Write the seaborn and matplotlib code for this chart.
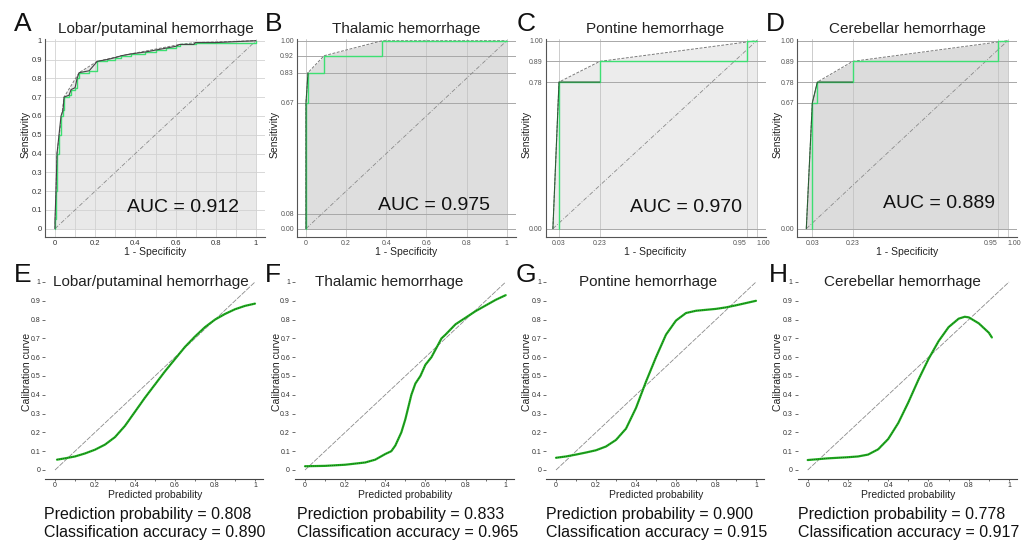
import matplotlib
matplotlib.use("Agg")
import matplotlib.pyplot as plt
import numpy as np
import seaborn as sns

sns.set_theme(style="white")
plt.rcParams['font.family'] = ['Liberation Sans', 'DejaVu Sans']

W, H = 1028, 542

# ---- data ----
panel_letters_top = ['A', 'B', 'C', 'D']
panel_letters_bottom = ['E', 'F', 'G', 'H']
titles = ['Lobar/putaminal hemorrhage', 'Thalamic hemorrhage',
          'Pontine hemorrhage', 'Cerebellar hemorrhage']
auc_values = [0.912, 0.975, 0.970, 0.889]
pred_prob = [0.808, 0.833, 0.900, 0.778]
class_acc = [0.890, 0.965, 0.915, 0.917]

# ROC step curves (green), empirical lines (black) and convex hulls (dashed)
lobar_fpr = [0, 0, 0.005, 0.01, 0.02, 0.03, 0.04, 0.045, 0.07, 0.08, 0.1, 0.11, 0.12, 0.17,
             0.21, 0.26, 0.3, 0.33, 0.38, 0.45, 0.5, 0.55, 0.6, 0.62, 0.69, 0.7, 0.8, 1.0]
lobar_tpr = [0, 0.05, 0.2, 0.4, 0.5, 0.6, 0.63, 0.7, 0.71, 0.74, 0.75, 0.8, 0.83, 0.84,
             0.89, 0.9, 0.91, 0.92, 0.93, 0.94, 0.95, 0.96, 0.97, 0.98, 0.98, 0.99, 0.99, 1.0]
lobar_hull_fpr = [0, 0.005, 0.01, 0.045, 0.12, 0.21, 0.33, 0.62, 0.7, 1.0]
lobar_hull_tpr = [0, 0.2, 0.4, 0.7, 0.83, 0.89, 0.92, 0.98, 0.99, 1.0]

thal_fpr = [0, 0, 0.01, 0.09, 0.38, 1.0]
thal_tpr = [0, 0.67, 0.83, 0.92, 1.0, 1.0]
thal_black_fpr = [0, 0, 0.01]
thal_black_tpr = [0, 0.67, 0.83]
thal_hull_fpr = [0, 0, 0.01, 0.09, 0.38, 1.0]
thal_hull_tpr = [0, 0.67, 0.83, 0.92, 1.0, 1.0]

pont_fpr = [0.03, 0.03, 0.23, 0.95, 1.0]
pont_tpr = [0, 0.78, 0.89, 1.0, 1.0]
pont_black_fpr = [0, 0.03, 0.23]
pont_black_tpr = [0, 0.78, 0.78]
pont_hull_fpr = [0, 0.03, 0.23, 1.0]
pont_hull_tpr = [0, 0.78, 0.89, 1.0]

cere_fpr = [0.03, 0.03, 0.055, 0.23, 0.95, 1.0]
cere_tpr = [0, 0.67, 0.78, 0.89, 1.0, 1.0]
cere_black_fpr = [0, 0.03, 0.055, 0.23]
cere_black_tpr = [0, 0.67, 0.78, 0.78]
cere_hull_fpr = [0, 0.03, 0.055, 0.23, 1.0]
cere_hull_tpr = [0, 0.67, 0.78, 0.89, 1.0]

roc_step = [(lobar_fpr, lobar_tpr), (thal_fpr, thal_tpr), (pont_fpr, pont_tpr), (cere_fpr, cere_tpr)]
roc_black = [(lobar_fpr, lobar_tpr), (thal_black_fpr, thal_black_tpr),
             (pont_black_fpr, pont_black_tpr), (cere_black_fpr, cere_black_tpr)]
roc_hull = [(lobar_hull_fpr, lobar_hull_tpr), (thal_hull_fpr, thal_hull_tpr),
            (pont_hull_fpr, pont_hull_tpr), (cere_hull_fpr, cere_hull_tpr)]

dec_ticks = [0, 0.1, 0.2, 0.3, 0.4, 0.5, 0.6, 0.7, 0.8, 0.9, 1.0]
dec_labels = ['0', '0.1', '0.2', '0.3', '0.4', '0.5', '0.6', '0.7', '0.8', '0.9', '1']
fifth_ticks = [0, 0.2, 0.4, 0.6, 0.8, 1.0]
fifth_labels = ['0', '0.2', '0.4', '0.6', '0.8', '1']

roc_xticks = [fifth_ticks, fifth_ticks, [0.03, 0.23, 0.95, 1.0], [0.03, 0.23, 0.95, 1.0]]
roc_xlabels = [fifth_labels, fifth_labels, ['0.03', '0.23', '0.95', '1.00'], ['0.03', '0.23', '0.95', '1.00']]
roc_yticks = [dec_ticks, [0, 0.08, 0.67, 0.83, 0.92, 1.0], [0, 0.78, 0.89, 1.0], [0, 0.67, 0.78, 0.89, 1.0]]
roc_ylabels = [dec_labels, ['0.00', '0.08', '0.67', '0.83', '0.92', '1.00'],
               ['0.00', '0.78', '0.89', '1.00'], ['0.00', '0.67', '0.78', '0.89', '1.00']]

# calibration curves
lobar_cal_x = [0.01, 0.05, 0.1, 0.15, 0.2, 0.25, 0.3, 0.35, 0.4, 0.45, 0.5, 0.55, 0.6, 0.65, 0.7, 0.75, 0.8, 0.85, 0.9, 0.95, 1.0]
lobar_cal_y = [0.055, 0.062, 0.072, 0.088, 0.108, 0.135, 0.175, 0.235, 0.31, 0.385, 0.455, 0.525, 0.59, 0.655, 0.71, 0.76, 0.8, 0.83, 0.855, 0.873, 0.885]
thal_cal_x = [0.0, 0.1, 0.2, 0.3, 0.35, 0.4, 0.43, 0.45, 0.48, 0.5, 0.53, 0.55, 0.575, 0.6, 0.63, 0.65, 0.68, 0.7, 0.75, 0.8, 0.85, 0.9, 0.95, 1.0]
thal_cal_y = [0.02, 0.022, 0.028, 0.04, 0.055, 0.085, 0.1, 0.13, 0.2, 0.27, 0.4, 0.46, 0.5, 0.56, 0.6, 0.64, 0.7, 0.72, 0.775, 0.81, 0.845, 0.875, 0.905, 0.93]
pont_cal_x = [0.0, 0.05, 0.1, 0.15, 0.2, 0.25, 0.3, 0.35, 0.4, 0.45, 0.5, 0.55, 0.6, 0.65, 0.7, 0.75, 0.8, 0.85, 0.9, 0.95, 1.0]
pont_cal_y = [0.065, 0.072, 0.082, 0.093, 0.105, 0.125, 0.16, 0.22, 0.33, 0.47, 0.6, 0.72, 0.795, 0.835, 0.847, 0.852, 0.857, 0.865, 0.876, 0.888, 0.9]
cere_cal_x = [0.0, 0.1, 0.2, 0.25, 0.3, 0.35, 0.4, 0.45, 0.5, 0.55, 0.6, 0.65, 0.7, 0.75, 0.78, 0.8, 0.85, 0.9, 0.915]
cere_cal_y = [0.053, 0.062, 0.068, 0.072, 0.082, 0.11, 0.165, 0.25, 0.36, 0.48, 0.59, 0.685, 0.76, 0.805, 0.815, 0.812, 0.78, 0.73, 0.705]
cal_curves = [(lobar_cal_x, lobar_cal_y), (thal_cal_x, thal_cal_y), (pont_cal_x, pont_cal_y), (cere_cal_x, cere_cal_y)]

# ---- layout (pixel positions) ----
top_cols = [(55, 256), (306, 506.7), (552.9, 756.7), (806.3, 1007.7)]
top_xlim_left = [-0.05, -0.046, -0.036, -0.045]
bot_cols = [(55, 255), (305, 505.7), (556, 756), (807.7, 1009)]
fill_colors = ['#e9e9e9', '#dedede', '#ececec', '#dcdcdc']
sens_x = [26, 275, 527, 778]
calib_x = [27, 277, 527, 778]
letter_top_x = [23, 274, 526, 775]
letter_bot_x = [23, 273, 526, 778]
auc_x = [127, 378, 630, 883]
auc_y = [208, 205, 208, 204]
bot_title_x = [0.48, 0.42, 0.46, 0.47]
text_x = [44, 297, 546, 798]


def rect(px0, px1, py0, py1, xlim, ylim):
    sx = px1 - px0
    sy = py0 - py1
    left = px0 + xlim[0] * sx
    right = px0 + xlim[1] * sx
    bottom = py0 - ylim[0] * sy
    top = py0 - ylim[1] * sy
    return [left / W, 1 - bottom / H, (right - left) / W, (bottom - top) / H]


def ftext(x, y, s, **kw):
    fig.text(x / W, 1 - y / H, s, **kw)


fig = plt.figure(figsize=(W / 100, H / 100), dpi=100)

# ---- ROC row ----
for i in range(4):
    xlim = (top_xlim_left[i], 1.045)
    ylim = (-0.045, 1.01)
    ax = fig.add_axes(rect(top_cols[i][0], top_cols[i][1], 228.7, 40.7, xlim, ylim))
    ax.set_xlim(xlim)
    ax.set_ylim(ylim)
    ax.set_axisbelow(True)

    hx, hy = roc_hull[i]
    ax.fill_between(hx, hy, 0, color=fill_colors[i], lw=0, zorder=0.3)
    ax.set_xticks(roc_xticks[i])
    ax.set_xticklabels(roc_xlabels[i])
    ax.set_yticks(roc_yticks[i])
    ax.set_yticklabels(roc_ylabels[i])
    if i == 0:
        ax.set_xticks(dec_ticks, minor=True)
        ax.grid(True, which='both', color='#d2d2d2', lw=0.6)
        ax.tick_params(labelsize=5.5, labelcolor='#333333', length=0, pad=2)
    else:
        ax.grid(True, axis='y', color='#a8a8a8', lw=0.7)
        ax.grid(True, axis='x', color='#c4c4c4', lw=0.6)
        ax.tick_params(labelsize=5, labelcolor='#555555', length=0, pad=2)
        if i >= 2:
            # 0.95 and 1.00 sit side by side, as in "0.951.00"
            xl = ax.get_xticklabels()
            xl[2].set_ha('right')
            xl[3].set_ha('left')

    # chance diagonal
    sns.lineplot(x=[0, 1], y=[0, 1], ax=ax, color='#8a8a8a', lw=0.6,
                 linestyle=(0, (5, 2, 1, 2)), zorder=2)
    # convex hull
    sns.lineplot(x=hx, y=hy, ax=ax, sort=False, estimator=None, color='#7a7a7a',
                 lw=0.7, linestyle=(0, (3, 1.5)), zorder=2.5)
    sx, sy = roc_step[i]
    sns.lineplot(x=sx, y=sy, ax=ax, sort=False, estimator=None, color='#3ddf72',
                 lw=1.0, drawstyle='steps-post', zorder=3)
    bx, by = roc_black[i]
    sns.lineplot(x=bx, y=by, ax=ax, sort=False, estimator=None,
                 color='#2b5e35' if i > 0 else '#444444', lw=0.8, zorder=3.5)

    for side in ['top', 'right']:
        ax.spines[side].set_visible(False)
    for side in ['left', 'bottom']:
        ax.spines[side].set_color('#555555')
        ax.spines[side].set_linewidth(0.8)
    ax.set_xlabel('')
    ax.set_ylabel('')

    cx = (top_cols[i][0] + top_cols[i][1]) / 2
    ftext(cx, 29, titles[i], fontsize=11, ha='center', va='center', color='#222222')
    ftext(letter_top_x[i], 24, panel_letters_top[i], fontsize=19, ha='center', va='center', color='#111111')
    ftext(sens_x[i], 134, 'Sensitivity', fontsize=7.5, rotation=90, ha='center', va='center', color='#222222')
    ftext(cx, 252, '1 - Specificity', fontsize=7.5, ha='center', va='center', color='#222222')
    ftext(auc_x[i], auc_y[i], 'AUC = %.3f' % auc_values[i], fontsize=14, ha='left', va='center', color='#111111')

# ---- calibration row ----
for i in range(4):
    xlim = (-0.05, 1.04)
    ylim = (-0.05, 1.02)
    ax = fig.add_axes(rect(bot_cols[i][0], bot_cols[i][1], 470, 282, xlim, ylim))
    ax.set_xlim(xlim)
    ax.set_ylim(ylim)
    ax.set_facecolor('white')

    sns.lineplot(x=[0, 1], y=[0, 1], ax=ax, color='#8a8a8a', lw=0.6,
                 linestyle=(0, (6, 1.5)), zorder=2)
    cx_, cy_ = cal_curves[i]
    sns.lineplot(x=cx_, y=cy_, ax=ax, sort=False, estimator=None, color='#1fb21f', lw=1.6, zorder=3)
    sns.lineplot(x=cx_, y=cy_, ax=ax, sort=False, estimator=None, color='#1a1a1a', lw=0.5,
                 linestyle=(0, (1, 2)), zorder=3.5)

    ax.set_xticks(fifth_ticks)
    ax.set_xticklabels(fifth_labels)
    ax.set_xticks(dec_ticks, minor=True)
    ax.set_yticks(dec_ticks)
    ax.set_yticklabels(dec_labels)
    ax.tick_params(axis='both', which='both', direction='out', length=2, width=0.6,
                   color='#555555', labelsize=5, labelcolor='#333333', pad=1.5)
    ax.tick_params(axis='x', which='both', length=1.5, pad=0.5)
    ax.tick_params(left=True, bottom=True, which='both')
    for side in ['top', 'right', 'left']:
        ax.spines[side].set_visible(False)
    ax.spines['bottom'].set_color('#444444')
    ax.spines['bottom'].set_linewidth(0.8)
    ax.set_xlabel('')
    ax.set_ylabel('')

    ax.text(bot_title_x[i], 1.0, titles[i], fontsize=11, ha='center', va='center', color='#222222')
    cx = (bot_cols[i][0] + bot_cols[i][1]) / 2
    ftext(letter_bot_x[i], 275, panel_letters_bottom[i], fontsize=19, ha='center', va='center', color='#111111')
    ftext(calib_x[i], 372, 'Calibration curve', fontsize=7.5, rotation=90, ha='center', va='center', color='#222222')
    ftext(cx, 495, 'Predicted probability', fontsize=7.5, ha='center', va='center', color='#222222')
    ftext(text_x[i], 515, 'Prediction probability = %.3f' % pred_prob[i], fontsize=11.5, ha='left', va='center', color='#111111')
    ftext(text_x[i], 533, 'Classification accuracy = %.3f' % class_acc[i], fontsize=11.5, ha='left', va='center', color='#111111')

fig.savefig('out.png', dpi=100, facecolor='white')
